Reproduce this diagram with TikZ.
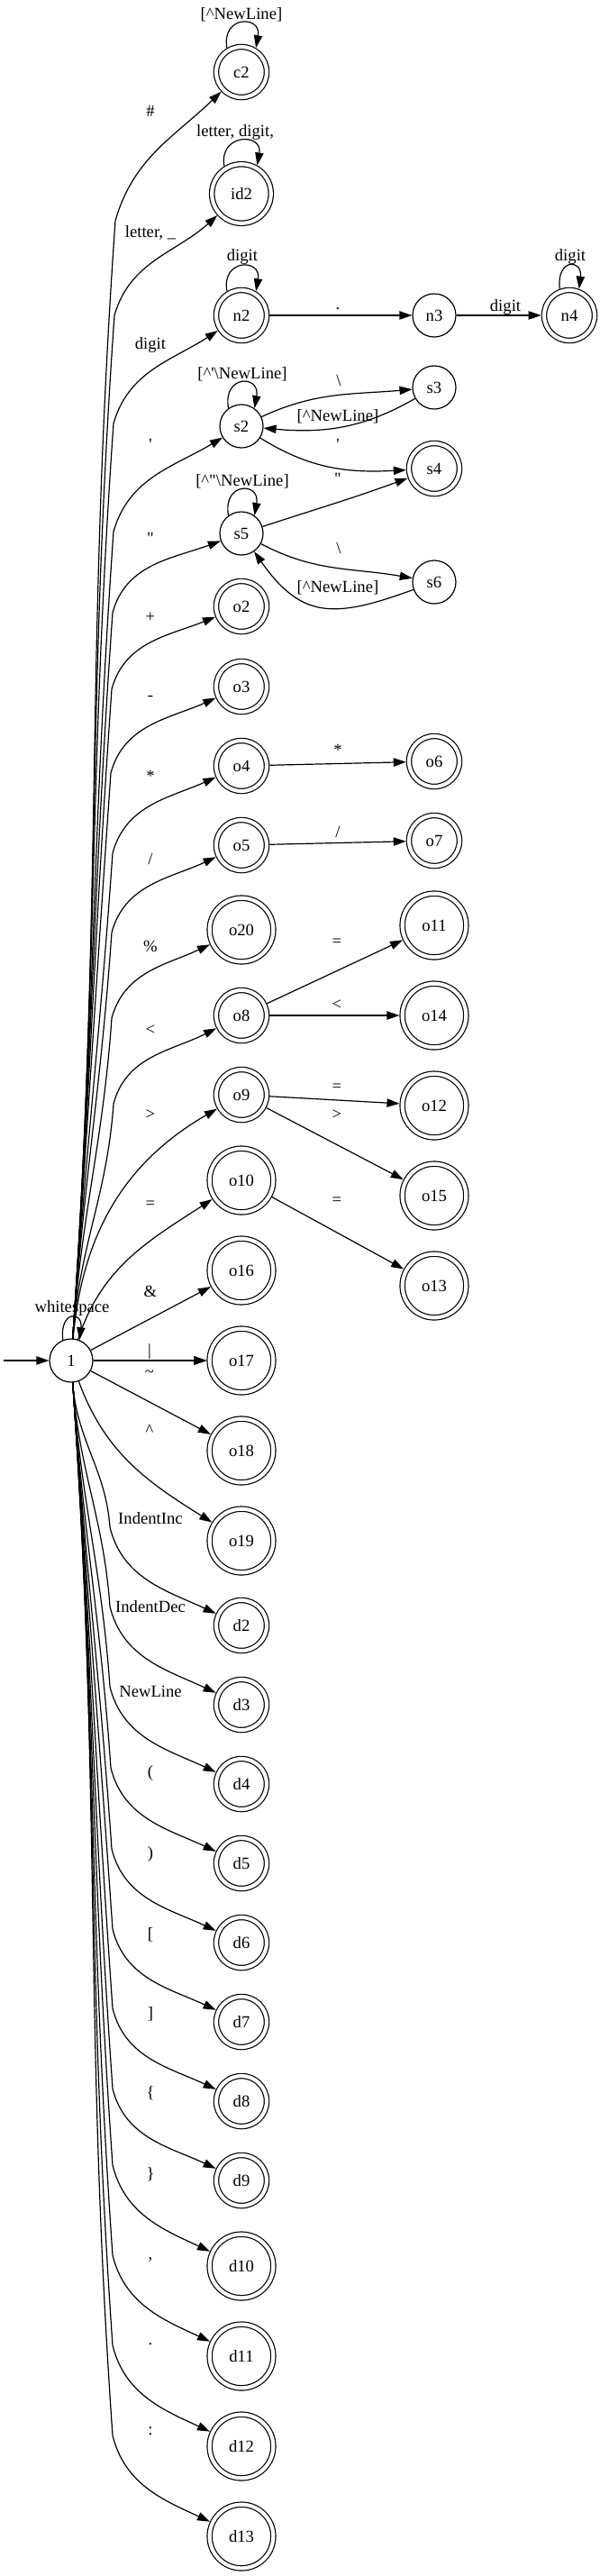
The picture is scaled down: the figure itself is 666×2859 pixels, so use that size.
\documentclass[tikz,border=0pt]{standalone}
\usepackage{fontspec}
\setmainfont{Liberation Serif}
\usetikzlibrary{arrows.meta}

\begin{document}
\begin{tikzpicture}[x=0.75pt, y=0.75pt, font=\fontsize{14}{16.8}\selectfont,
        st/.style={circle, draw, line width=0.9pt, minimum size=36pt, inner sep=0pt},
        acc/.style={st, double, double distance=3.1pt, minimum size=42pt, outer sep=2.45pt},
        accwide/.style={acc, minimum size=49.2pt},
        accbig/.style={acc, minimum size=53pt},
        trans/.style={line width=0.9pt, -{Triangle[length=10.5pt, width=7pt]}},
        lbl/.style={inner sep=0pt}]
            \useasboundingbox (0,0) rectangle (666,-2859);

            \node[st]      (one) at (79,-1510)  {1};
            \node[acc]     (c2)  at (268,-80)   {c2};
            \node[accwide] (id2) at (268,-215)  {id2};
            \node[acc]     (n2)  at (268,-350)  {n2};
            \node[st]      (n3)  at (482,-350)  {n3};
            \node[acc]     (n4)  at (632,-350)  {n4};
            \node[st]      (s2)  at (268,-473)  {s2};
            \node[st]      (s3)  at (482,-430)  {s3};
            \node[acc]     (s4)  at (482,-520)  {s4};
            \node[st]      (s5)  at (268,-592)  {s5};
            \node[st]      (s6)  at (482,-646)  {s6};
            \node[acc]     (o2)  at (268,-673)  {o2};
            \node[acc]     (o3)  at (268,-762)  {o3};
            \node[acc]     (o4)  at (268,-850)  {o4};
            \node[acc]     (o6)  at (482,-845)  {o6};
            \node[acc]     (o5)  at (268,-938)  {o5};
            \node[acc]     (o7)  at (482,-933)  {o7};
            \node[accbig]  (o20) at (268,-1032) {o20};
            \node[accbig]  (o11) at (482,-1027) {o11};
            \node[acc]     (o8)  at (268,-1127) {o8};
            \node[accbig]  (o14) at (482,-1127) {o14};
            \node[acc]     (o9)  at (268,-1215) {o9};
            \node[accbig]  (o12) at (482,-1227) {o12};
            \node[accbig]  (o10) at (268,-1310) {o10};
            \node[accbig]  (o15) at (482,-1327) {o15};
            \node[accbig]  (o16) at (268,-1410) {o16};
            \node[accbig]  (o13) at (482,-1427) {o13};
            \node[accbig]  (o17) at (268,-1510) {o17};
            \node[accbig]  (o18) at (268,-1610) {o18};
            \node[accbig]  (o19) at (268,-1710) {o19};
            \node[acc]     (d2)  at (268,-1804) {d2};
            \node[acc]     (d3)  at (268,-1892) {d3};
            \node[acc]     (d4)  at (268,-1980) {d4};
            \node[acc]     (d5)  at (268,-2068) {d5};
            \node[acc]     (d6)  at (268,-2156) {d6};
            \node[acc]     (d7)  at (268,-2244) {d7};
            \node[acc]     (d8)  at (268,-2332) {d8};
            \node[acc]     (d9)  at (268,-2420) {d9};
            \node[accbig]  (d10) at (268,-2515) {d10};
            \node[accbig]  (d11) at (268,-2615) {d11};
            \node[accbig]  (d12) at (268,-2715) {d12};
            \node[accbig]  (d13) at (268,-2815) {d13};

            \coordinate (start) at (4,-1510);
            \coordinate (kc2)  at (128,-245);
            \coordinate (kid2) at (127,-350);
            \coordinate (kn2)  at (126,-470);
            \coordinate (ks2)  at (126,-590);
            \coordinate (ks5)  at (125,-680);
            \coordinate (ko2)  at (124,-765);
            \coordinate (ko3)  at (123,-858);
            \coordinate (ko4)  at (125,-947);
            \coordinate (ko5)  at (124,-1035);
            \coordinate (ko20) at (124,-1130);
            \coordinate (ko8)  at (126,-1225);
            \coordinate (kd2)  at (122,-1695);
            \coordinate (kd3)  at (122,-1783);
            \coordinate (kd4)  at (122,-1872);
            \coordinate (kd5)  at (123,-1962);
            \coordinate (kd6)  at (124,-2052);
            \coordinate (kd7)  at (125,-2141);
            \coordinate (kd8)  at (125,-2229);
            \coordinate (kd9)  at (125,-2318);
            \coordinate (kd10) at (125,-2403);
            \coordinate (kd11) at (125,-2503);
            \coordinate (kd12) at (125,-2603);
            \coordinate (kd13) at (125,-2703);

            \draw[trans] (start) -- (one) ;

            \draw[trans] (one.112) .. controls +(97:33) and +(83:33) .. (one.68) node[lbl] at (80,-1452) {whitespace};
            \draw[trans] (c2.121) .. controls +(100:37) and +(80:37) .. (c2.59) node[lbl] at (268,-16) {[\textasciicircum NewLine]};
            \draw[trans] (id2.122) .. controls +(100:37) and +(80:37) .. (id2.61) node[lbl] at (261,-147) {letter, digit,};
            \draw[trans] (n2.121) .. controls +(100:37) and +(80:37) .. (n2.59) node[lbl] at (269,-285) {digit};
            \draw[trans] (n4.110) .. controls +(97:34) and +(83:34) .. (n4.70) node[lbl] at (633,-285) {digit};
            \draw[trans] (s2.126) .. controls +(100:38) and +(80:38) .. (s2.54) node[lbl] at (269,-415) {[\textasciicircum\textquotesingle\textbackslash NewLine]};
            \draw[trans] (s5.126) .. controls +(100:38) and +(80:38) .. (s5.54) node[lbl] at (269,-534) {[\textasciicircum\textquotedbl\textbackslash NewLine]};

            \draw[trans] (n2) -- (n3) node[lbl] at (375,-343) {.};
            \draw[trans] (n3) -- (n4) node[lbl] at (561,-341) {digit};

            \draw[trans] (s2) to[out=25,in=185] (s3) node[lbl] at (376,-422) {\textbackslash};
            \draw[trans] (s3) to[out=210,in=-5] (s2) node[lbl] at (375,-462) {[\textasciicircum NewLine]};
            \draw[trans] (s2) to[out=-32,in=183] (s4) node[lbl] at (375,-493) {\textquotesingle};
            \draw[trans] (s5) to[out=18,in=200] (s4) node[lbl] at (375,-531) {\textquotedbl};
            \draw[trans] (s5) to[out=-28,in=170] (s6) node[lbl] at (376,-608) {\textbackslash};
            \draw[trans] (s6) to[out=200,in=-55,looseness=1.3] (s5) node[lbl] at (375,-652) {[\textasciicircum NewLine]};

            \draw[trans] (o4) -- (o6) node[lbl] at (375,-832) {*};
            \draw[trans] (o5) -- (o7) node[lbl] at (375,-923) {/};
            \draw[trans] (o8) -- (o11) node[lbl] at (374,-1046) {=};
            \draw[trans] (o8) -- (o14) node[lbl] at (374,-1115) {<};
            \draw[trans] (o9) -- (o12) node[lbl] at (374,-1207) {=};
            \draw[trans] (o9) -- (o15) node[lbl] at (374,-1237) {>};
            \draw[trans] (o10) -- (o13) node[lbl] at (374,-1333) {=};

            \draw[trans] (one) to[out=86,in=266] (kc2) to[out=74,in=224] (c2) node[lbl] at (167,-123) {\#};
            \draw[trans] (one) to[out=86,in=266] (kid2) to[out=74,in=222] (id2) node[lbl] at (167,-258) {letter, \_};
            \draw[trans] (one) to[out=86,in=266] (kn2) to[out=74,in=213] (n2) node[lbl] at (167,-383) {digit};
            \draw[trans] (one) to[out=86,in=266] (ks2) to[out=74,in=211] (s2) node[lbl] at (167,-493) {\textquotesingle};
            \draw[trans] (one) to[out=86,in=266] (ks5) to[out=75,in=200] (s5) node[lbl] at (167,-597) {\textquotedbl};
            \draw[trans] (one) to[out=86,in=266] (ko2) to[out=75,in=202] (o2) node[lbl] at (167,-685) {+};
            \draw[trans] (one) to[out=86,in=266] (ko3) to[out=75,in=204] (o3) node[lbl] at (167,-775) {-};
            \draw[trans] (one) to[out=86,in=266] (ko4) to[out=75,in=204] (o4) node[lbl] at (167,-861) {*};
            \draw[trans] (one) to[out=86,in=266] (ko5) to[out=75,in=205] (o5) node[lbl] at (167,-953) {/};
            \draw[trans] (one) to[out=86,in=266] (ko20) to[out=75,in=205] (o20) node[lbl] at (167,-1050) {\%};
            \draw[trans] (one) to[out=86,in=266] (ko8) to[out=75,in=207] (o8) node[lbl] at (167,-1143) {<};
            \draw[trans] (one) to[out=85,in=210] (o9) node[lbl] at (167,-1237) {>};
            \draw[trans] (one) to[out=72,in=213] (o10) node[lbl] at (167,-1337) {=};
            \draw[trans] (one) -- (o16) node[lbl] at (167,-1433) {\&};
            \draw[trans] (one) -- (o17) node[lbl] at (166,-1500) {\textbar};
            \draw[trans] (one) -- (o17) node[lbl] at (166,-1525) {\textasciitilde};
            \draw[trans] (one) -- (o18) node[lbl] at (166,-1587) {\textasciicircum};
            \draw[trans] (one) to[out=-70,in=148] (o19) node[lbl] at (167,-1685) {IndentInc};
            \draw[trans] (one) to[out=-86,in=94] (kd2) to[out=-76,in=155] (d2) node[lbl] at (167,-1783) {IndentDec};
            \draw[trans] (one) to[out=-86,in=94] (kd3) to[out=-76,in=155] (d3) node[lbl] at (167,-1877) {NewLine};
            \draw[trans] (one) to[out=-86,in=94] (kd4) to[out=-76,in=155] (d4) node[lbl] at (167,-1968) {(};
            \draw[trans] (one) to[out=-86,in=94] (kd5) to[out=-76,in=155] (d5) node[lbl] at (167,-2058) {)};
            \draw[trans] (one) to[out=-86,in=94] (kd6) to[out=-76,in=155] (d6) node[lbl] at (167,-2147) {[};
            \draw[trans] (one) to[out=-86,in=94] (kd7) to[out=-76,in=155] (d7) node[lbl] at (167,-2235) {]};
            \draw[trans] (one) to[out=-86,in=94] (kd8) to[out=-76,in=155] (d8) node[lbl] at (167,-2323) {\{};
            \draw[trans] (one) to[out=-86,in=94] (kd9) to[out=-76,in=155] (d9) node[lbl] at (167,-2413) {\}};
            \draw[trans] (one) to[out=-86,in=94] (kd10) to[out=-76,in=155] (d10) node[lbl] at (167,-2508) {,};
            \draw[trans] (one) to[out=-86,in=94] (kd11) to[out=-76,in=155] (d11) node[lbl] at (167,-2602) {.};
            \draw[trans] (one) to[out=-86,in=94] (kd12) to[out=-76,in=155] (d12) node[lbl] at (167,-2698) {:};
            \draw[trans] (one) to[out=-86,in=94] (kd13) to[out=-76,in=155] (d13) ;
\end{tikzpicture}
\end{document}
